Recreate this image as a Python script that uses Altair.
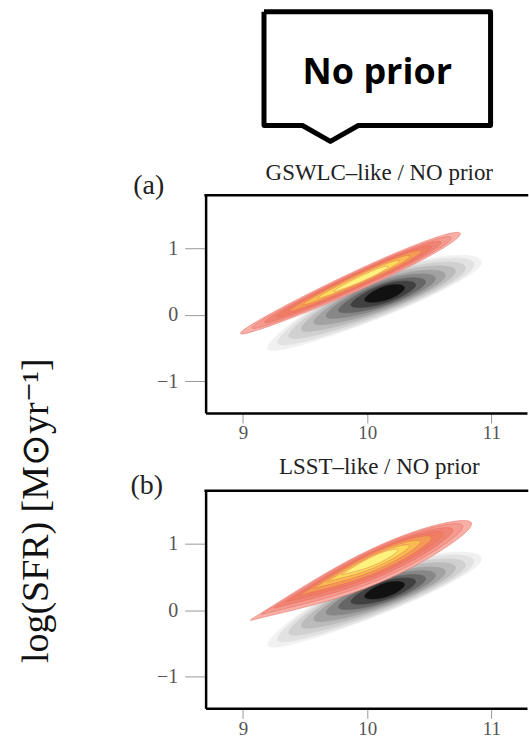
import numpy as np
import pandas as pd
import altair as alt

# ---------------- data ----------------
x_domain = [8.70, 11.286]
y_domain = [-1.48, 1.80]
x_ticks = [9, 10, 11]
y_ticks = [-1, 0, 1]

panel_titles = ["GSWLC–like / NO prior", "LSST–like / NO prior"]
panel_tags = ["(a)", "(b)"]
y_title = "log(SFR) [M⊙yr⁻¹]"
callout_text = "No prior"

# grey density contours (outer -> inner): centre, half-length in x, slope, vertical half-thickness
gray_colors = ["#f1f1f1", "#e2e2e2", "#d0d0d0", "#bbbbbb", "#a2a2a2",
               "#878787", "#666666", "#404040", "#111111"]
gray_a_cx = [10.06, 10.07, 10.08, 10.09, 10.10, 10.11, 10.12, 10.13, 10.14]
gray_a_cy = [0.26, 0.265, 0.27, 0.28, 0.285, 0.295, 0.30, 0.31, 0.32]
gray_a_A = [0.86, 0.79, 0.71, 0.62, 0.53, 0.44, 0.35, 0.26, 0.16]
gray_a_s = [0.75, 0.74, 0.72, 0.70, 0.67, 0.64, 0.61, 0.58, 0.55]
gray_a_B = [0.34, 0.32, 0.29, 0.26, 0.23, 0.20, 0.17, 0.14, 0.105]

gray_b_cx = [10.06, 10.07, 10.08, 10.09, 10.10, 10.11, 10.12, 10.13, 10.14]
gray_b_cy = [0.24, 0.245, 0.25, 0.26, 0.265, 0.275, 0.28, 0.29, 0.30]
gray_b_A = [0.86, 0.79, 0.71, 0.62, 0.53, 0.44, 0.35, 0.26, 0.16]
gray_b_s = [0.75, 0.74, 0.72, 0.70, 0.67, 0.64, 0.61, 0.58, 0.55]
gray_b_B = [0.34, 0.32, 0.29, 0.26, 0.23, 0.20, 0.17, 0.14, 0.105]
gray_shape = {"q": -0.15, "k": 0.05, "m": 0.15}

# orange density contours (outer -> inner)
warm_colors = ["#f7b0a8", "#f49a8e", "#f08474", "#ef7d62", "#f39a55",
               "#f7bb50", "#fbdb58", "#fdf27c"]
warm_a_cx = [9.865, 9.875, 9.885, 9.895, 9.905, 9.915, 9.93, 9.95]
warm_a_cy = [0.47, 0.48, 0.49, 0.50, 0.51, 0.52, 0.53, 0.54]
warm_a_A = [0.885, 0.80, 0.71, 0.62, 0.53, 0.43, 0.33, 0.22]
warm_a_s = [0.847, 0.847, 0.847, 0.847, 0.847, 0.847, 0.847, 0.847]
warm_a_B = [0.155, 0.135, 0.12, 0.105, 0.09, 0.075, 0.06, 0.045]
warm_a_shape = {"q": 0.0, "k": 0.20, "m": 0.0}

warm_b_cx = [9.95, 9.96, 9.97, 9.98, 9.99, 10.00, 10.01, 10.02]
warm_b_cy = [0.575, 0.60, 0.62, 0.64, 0.66, 0.68, 0.70, 0.72]
warm_b_A = [0.89, 0.81, 0.72, 0.63, 0.53, 0.43, 0.33, 0.23]
warm_b_s = [0.815, 0.815, 0.815, 0.815, 0.815, 0.815, 0.815, 0.815]
warm_b_B = [0.27, 0.24, 0.21, 0.18, 0.155, 0.125, 0.095, 0.07]
warm_b_shape = {"q": 0.0, "k": 0.40, "m": 0.40}

# callout box outline (pixels in the header view)
callout_px = [58.5, 285.5, 285.5, 153, 125, 97, 58.5, 58.5]
callout_py = [11, 11, 125, 125, 141, 125, 125, 11]

# ---------------- layout ----------------
W, H = 322, 218
HEADER_H = 117
SERIF = "Liberation Serif"

xs = alt.Scale(domain=x_domain, nice=False, zero=False)
ys = alt.Scale(domain=y_domain, nice=False, zero=False)
x_axis = alt.Axis(values=x_ticks, title=None, grid=False, domainColor="black",
                  domainWidth=2.5, tickColor="#999999", tickWidth=1, tickSize=10,
                  labelFont=SERIF, labelFontSize=19, labelColor="#555555",
                  labelPadding=1)
y_axis = alt.Axis(values=y_ticks, title=None, grid=False, domainColor="black",
                  domainWidth=2.5, tickColor="#999999", tickWidth=1, tickSize=21,
                  labelFont=SERIF, labelFontSize=20, labelColor="#555555",
                  labelPadding=7)


def contour_layers(cx, cy, A, s, B, colors, shape, stroke=None, sw=0.6):
    layers = []
    t = np.linspace(0, 2 * np.pi, 145)
    c = np.cos(t)
    for k in range(len(cx)):
        u = A[k] * c
        thick = B[k] * (1 + shape["k"] * c - shape["m"] * c * c) * np.sin(t)
        df = pd.DataFrame({
            "mass": cx[k] + u,
            "sfr": cy[k] + s[k] * u + shape["q"] * u * u + thick,
            "i": np.arange(len(t)),
        })
        layers.append(
            alt.Chart(df).mark_line(
                filled=True, fill=colors[k], stroke=stroke or colors[k],
                strokeWidth=sw, interpolate="linear"
            ).encode(
                x=alt.X("mass:Q", scale=xs, axis=x_axis),
                y=alt.Y("sfr:Q", scale=ys, axis=y_axis),
                order="i:Q",
            )
        )
    return layers


def text_layer(txt, x, y, size, **kw):
    return alt.Chart(pd.DataFrame({"t": [txt]})).mark_text(
        fontSize=size, align="center", baseline="middle", **kw
    ).encode(text="t:N", x=alt.value(x), y=alt.value(y))


def top_border():
    return alt.Chart(pd.DataFrame({"a": [0]})).mark_rule(
        color="black", strokeWidth=2.5, strokeCap="square"
    ).encode(x=alt.value(0), x2=alt.value(W), y=alt.value(0))


gray_a = contour_layers(gray_a_cx, gray_a_cy, gray_a_A, gray_a_s, gray_a_B,
                        gray_colors, gray_shape)
warm_a = contour_layers(warm_a_cx, warm_a_cy, warm_a_A, warm_a_s, warm_a_B,
                        warm_colors, warm_a_shape, stroke="#e8675c", sw=0.5)
gray_b = contour_layers(gray_b_cx, gray_b_cy, gray_b_A, gray_b_s, gray_b_B,
                        gray_colors, gray_shape)
warm_b = contour_layers(warm_b_cx, warm_b_cy, warm_b_A, warm_b_s, warm_b_B,
                        warm_colors, warm_b_shape, stroke="#e8675c", sw=0.5)

panel_a = alt.layer(
    *gray_a, *warm_a, top_border(),
    text_layer(panel_titles[0], 174, -22, 23, font=SERIF, color="#222222"),
    text_layer(panel_tags[0], -57, -9, 28, font=SERIF, color="#222222"),
    text_layer(y_title, -169, 316, 38, font=SERIF, color="#111111", angle=270),
).properties(width=W, height=H)

panel_b = alt.layer(
    *gray_b, *warm_b, top_border(),
    text_layer(panel_titles[1], 174, -24, 23, font=SERIF, color="#222222"),
    text_layer(panel_tags[1], -59, -5, 28, font=SERIF, color="#222222"),
).properties(width=W, height=H)

callout_df = pd.DataFrame({"px": callout_px, "py": callout_py,
                           "i": list(range(len(callout_px)))})
header = alt.layer(
    alt.Chart(callout_df).mark_line(
        filled=True, fill="white", stroke="black", strokeWidth=5, strokeJoin="round"
    ).encode(
        x=alt.X("px:Q", scale=None, axis=None),
        y=alt.Y("py:Q", scale=None, axis=None),
        order="i:Q",
    ),
    text_layer(callout_text, 172, 72, 36, font="Open Sans", fontWeight="bold",
               color="black"),
).properties(width=W, height=HEADER_H)

chart = alt.vconcat(header, panel_a, panel_b, spacing=78, bounds="flush").properties(
    padding={"left": 18, "top": 0, "right": 0, "bottom": 0},
    background="white",
).configure_view(stroke=None)

chart.save("out.html", embed_options={"renderer": "svg", "actions": False})
